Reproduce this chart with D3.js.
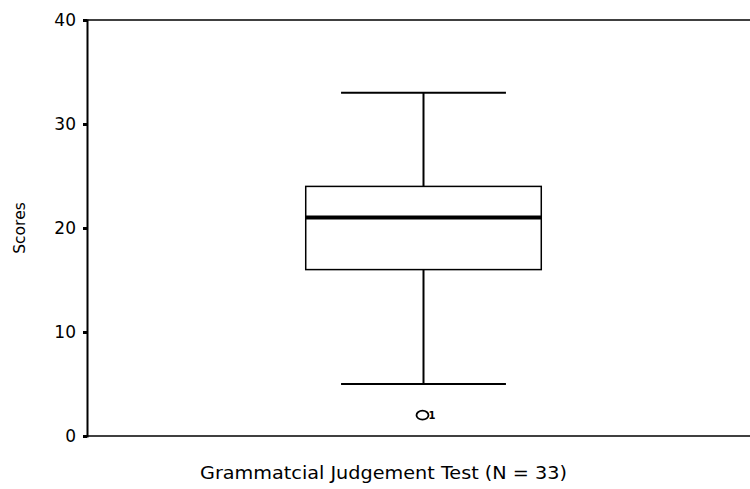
<!DOCTYPE html>
<html>
<head>
<meta charset="utf-8">
<script src="https://cdn.jsdelivr.net/npm/d3@7"></script>
<style>
  body { margin: 0; background: #fff; }
  text { font-family: "DejaVu Sans", sans-serif; fill: #000; }
</style>
</head>
<body>
<div id="chart"></div>
<script>
// data
let groups = ["Grammatcial Judgement Test (N = 33)"];
let whiskerLow = [5];
let q1 = [16];
let median = [21];
let q3 = [24];
let whiskerHigh = [33];
let outliers = [{ group: 0, value: 2, label: "1" }];
let yTicks = [0, 10, 20, 30, 40];

let width = 750, height = 489;
let svg = d3.select("#chart").append("svg")
  .attr("width", width)
  .attr("height", height);

// scales
let x = d3.scaleBand().domain(groups).range([87, 760]);
let y = d3.scaleLinear().domain([0, 40]).range([436, 20]);

// frame lines
svg.append("line").attr("x1", 87).attr("x2", 760).attr("y1", y(40)).attr("y2", y(40))
  .attr("stroke", "#000").attr("stroke-width", 1.5);
svg.append("line").attr("x1", 87).attr("x2", 760).attr("y1", y(0)).attr("y2", y(0))
  .attr("stroke", "#000").attr("stroke-width", 1.5);

// y axis
let yAxis = d3.axisLeft(y).tickValues(yTicks).tickSize(4).tickPadding(7);
let gy = svg.append("g").attr("transform", "translate(87,0)").call(yAxis);
gy.select(".domain").attr("stroke", "#000").attr("stroke-width", 2);
gy.selectAll(".tick line").attr("stroke", "#000").attr("stroke-width", 3);
gy.selectAll(".tick text").style("font-size", "17px").attr("fill", "#000")
  .attr("font-family", "DejaVu Sans");

svg.append("text")
  .attr("transform", "translate(25," + y(20) + ") rotate(-90)")
  .attr("text-anchor", "middle")
  .style("font-size", "15.5px")
  .text("Scores");

// x label
svg.append("text")
  .attr("x", 200)
  .attr("y", 479)
  .attr("textLength", 367)
  .attr("lengthAdjust", "spacingAndGlyphs")
  .style("font-size", "18px")
  .text(groups[0]);

// box plot
let boxW = x.bandwidth() * 0.35;
let capW = x.bandwidth() * 0.245;

groups.forEach((g, i) => {
  let cx = x(g) + x.bandwidth() / 2;
  let gb = svg.append("g");
  // whisker stems
  gb.append("line").attr("x1", cx).attr("x2", cx).attr("y1", y(whiskerHigh[i])).attr("y2", y(q3[i]))
    .attr("stroke", "#000").attr("stroke-width", 2);
  gb.append("line").attr("x1", cx).attr("x2", cx).attr("y1", y(q1[i])).attr("y2", y(whiskerLow[i]))
    .attr("stroke", "#000").attr("stroke-width", 2);
  // caps
  [whiskerHigh[i], whiskerLow[i]].forEach(v => {
    gb.append("line").attr("x1", cx - capW / 2).attr("x2", cx + capW / 2)
      .attr("y1", y(v)).attr("y2", y(v))
      .attr("stroke", "#000").attr("stroke-width", 2);
  });
  // box
  gb.append("rect")
    .attr("x", cx - boxW / 2).attr("y", y(q3[i]))
    .attr("width", boxW).attr("height", y(q1[i]) - y(q3[i]))
    .attr("fill", "#fff").attr("stroke", "#000").attr("stroke-width", 1.5);
  // median
  gb.append("line").attr("x1", cx - boxW / 2).attr("x2", cx + boxW / 2)
    .attr("y1", y(median[i])).attr("y2", y(median[i]))
    .attr("stroke", "#000").attr("stroke-width", 4);
});

// outliers
outliers.forEach(o => {
  let cx = x(groups[o.group]) + x.bandwidth() / 2;
  svg.append("ellipse")
    .attr("cx", cx - 1).attr("cy", y(o.value))
    .attr("rx", 6).attr("ry", 4.5)
    .attr("fill", "none").attr("stroke", "#000").attr("stroke-width", 1.8);
  svg.append("text")
    .attr("x", cx + 5).attr("y", y(o.value) + 4)
    .style("font-size", "10px")
    .style("font-weight", "bold")
    .text(o.label);
});
</script>
</body>
</html>
